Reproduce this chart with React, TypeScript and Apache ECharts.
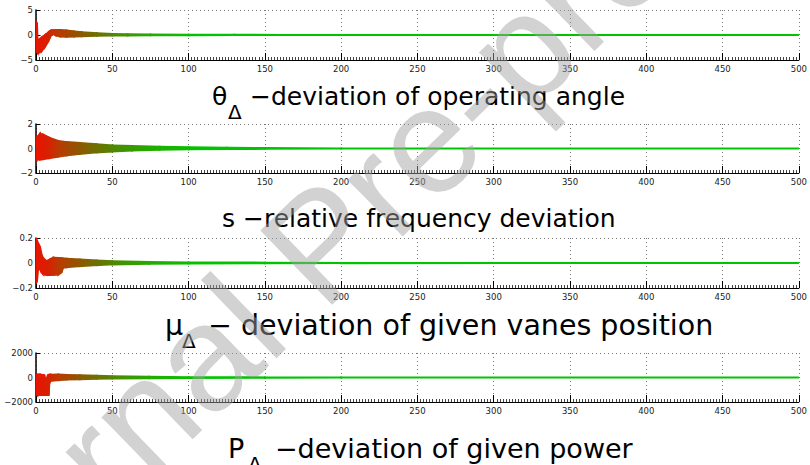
import React, { useEffect, useRef } from 'react';
import * as echarts from 'echarts';

// ---------- data ----------
const xMin = 0;
const xMax = 500;
const xInterval = 50;

// theta_delta : deviation of operating angle
const thetaTime = [0, 0.6, 1, 1.5, 3.7, 6, 8, 9, 10, 11, 13, 16, 20, 25, 30, 40, 50, 60, 75, 100, 130, 160, 200, 500];
const thetaUpper = [2.6, 2.4, -1.1, -1.0, -0.5, 0.0, 0.5, 0.75, 0.9, 0.95, 1.0, 1.0, 0.9, 0.7, 0.55, 0.35, 0.2, 0.15, 0.1, 0.06, 0.04, 0.02, 0.01, 0];
const thetaLower = [-2.5, -3.3, -3.5, -3.6, -3.2, -2.3, -1.3, -0.6, 0.0, 0.2, -0.1, -0.3, -0.35, -0.3, -0.25, -0.15, -0.1, -0.08, -0.05, -0.03, -0.02, -0.01, 0, 0];

// s : relative frequency deviation
const sTime = [0, 0.4, 2.6, 4.8, 9, 14.6, 20, 28.7, 39.6, 50, 63, 81, 100, 125, 150, 200, 500];
const sUpper = [0.8, 0.9, 1.2, 1.13, 0.87, 0.62, 0.53, 0.45, 0.35, 0.25, 0.2, 0.15, 0.11, 0.07, 0.04, 0.01, 0];
const sLower = [-0.85, -0.9, -0.9, -0.86, -0.78, -0.66, -0.56, -0.44, -0.32, -0.24, -0.16, -0.1, -0.07, -0.05, -0.03, -0.01, 0];

// mu_delta : deviation of given vanes position
const muTime = [0, 0.6, 1.5, 2.6, 3.7, 4.8, 7, 9.1, 11.3, 14.6, 16.7, 17.8, 20, 28.7, 39.6, 50, 74, 100, 150, 200, 500];
const muUpper = [0.2, 0.18, 0.155, 0.13, 0.065, 0.037, 0.014, 0.028, 0.042, 0.04, 0.038, 0.036, 0.034, 0.028, 0.02, 0.014, 0.008, 0.005, 0.003, 0.001, 0];
const muLower = [-0.16, -0.15, -0.034, -0.048, -0.076, -0.09, -0.096, -0.096, -0.095, -0.093, -0.076, -0.037, -0.034, -0.025, -0.017, -0.011, -0.006, -0.004, -0.002, -0.001, 0];

// P_delta : deviation of given power
const pTime = [0, 0.9, 2.6, 4.8, 5.4, 6.5, 7.8, 8.3, 8.7, 9.6, 14.6, 20, 28.7, 39.6, 50, 74, 100, 150, 200, 500];
const pUpper = [250, 240, 240, 200, 190, -300, 190, 210, 220, 230, 240, 210, 190, 140, 110, 60, 30, 10, 0, 0];
const pLower = [-1300, -1430, -1430, -1430, -1430, -1430, -1430, -1430, -500, -270, -210, -160, -135, -110, -80, -55, -40, -20, -5, 0];

const yRanges = [
  { min: -5, max: 5, interval: 5 },
  { min: -2, max: 2, interval: 2 },
  { min: -0.2, max: 0.2, interval: 0.2 },
  { min: -2000, max: 2000, interval: 2000 },
];

const panelsData = [
  { t: thetaTime, up: thetaUpper, lo: thetaLower },
  { t: sTime, up: sUpper, lo: sLower },
  { t: muTime, up: muUpper, lo: muLower },
  { t: pTime, up: pUpper, lo: pLower },
];

// ---------- layout / style ----------
const gridTops = [10, 124, 238, 353];
const gridHeights = [50, 49, 50, 49];
const gridLeft = 36;
const gridWidth = 768;

const colorStops = [
  { offset: 0, color: '#e81400' },
  { offset: 0.07, color: '#d82000' },
  { offset: 0.14, color: '#b83c00' },
  { offset: 0.23, color: '#985000' },
  { offset: 0.36, color: '#6e7000' },
  { offset: 0.5, color: '#459000' },
  { offset: 0.7, color: '#1fae00' },
  { offset: 1, color: '#00c400' },
];
const gradientEnd = 110;

const titleParts = [
  { text: 'θ', x: 212, base: 105, size: 25 },
  { text: 'Δ', x: 228, base: 119, size: 20 },
  { text: '−deviation of operating angle', x: 250, base: 105, size: 25 },
  { text: 's −relative frequency deviation', x: 222, base: 227, size: 25 },
  { text: 'μ', x: 165, base: 335, size: 28.5 },
  { text: 'Δ', x: 182, base: 348, size: 20 },
  { text: '− deviation of given vanes position', x: 208, base: 335, size: 28.5 },
  { text: 'P', x: 228, base: 458, size: 27 },
  { text: 'Δ', x: 248, base: 471, size: 20 },
  { text: '−deviation of given power', x: 275, base: 458, size: 27 },
];

const fmtMinus = (v: number) => String(v).replace('-', '\u2212');

function buildOption() {
  const grid = gridTops.map((top, i) => ({
    left: gridLeft,
    top,
    width: gridWidth,
    height: gridHeights[i],
    containLabel: false,
  }));

  const xAxis = gridTops.map((_, i) => ({
    gridIndex: i,
    type: 'value',
    min: xMin,
    max: xMax,
    interval: xInterval,
    axisLine: { show: true, onZero: false, lineStyle: { color: '#000', width: 1 } },
    axisTick: { show: true, inside: true, length: 7, lineStyle: { color: '#000', width: 1 } },
    minorTick: { show: true, splitNumber: 25, length: 3, lineStyle: { color: '#444', width: 1 } },
    axisLabel: { fontSize: 8.5, color: '#222', margin: 4, fontFamily: 'DejaVu Sans' },
    splitLine: { show: true, lineStyle: { color: '#777', type: [1, 3], width: 1 } },
  }));

  const yAxis = yRanges.map((r, i) => ({
    gridIndex: i,
    type: 'value',
    min: r.min,
    max: r.max,
    interval: r.interval,
    axisLine: { show: true, onZero: false, lineStyle: { color: '#000', width: 1.5 } },
    axisTick: { show: true, inside: true, length: 4, lineStyle: { color: '#000' } },
    axisLabel: {
      fontSize: 8.5,
      color: '#222',
      margin: 3,
      fontFamily: 'DejaVu Sans',
      formatter: fmtMinus,
    },
    splitLine: { show: true, lineStyle: { color: '#777', type: [1, 3], width: 1 } },
  }));

  const series = panelsData.map((p, i) => {
    const segs: number[][] = [];
    for (let j = 0; j < p.t.length - 1; j++) {
      segs.push([p.t[j], p.lo[j], p.up[j], p.t[j + 1], p.lo[j + 1], p.up[j + 1]]);
    }
    return {
      type: 'custom',
      xAxisIndex: i,
      yAxisIndex: i,
      clip: true,
      silent: true,
      encode: { x: [0, 3], y: [1, 2, 4, 5] },
      data: segs,
      renderItem: (params: any, api: any) => {
        const x0 = api.value(0), l0 = api.value(1), h0 = api.value(2);
        const x1 = api.value(3), l1 = api.value(4), h1 = api.value(5);
        const pts = [api.coord([x0, h0]), api.coord([x1, h1]), api.coord([x1, l1]), api.coord([x0, l0])];
        const gx0 = api.coord([0, 0])[0];
        const gx1 = api.coord([gradientEnd, 0])[0];
        const grad = new echarts.graphic.LinearGradient(gx0, 0, gx1, 0, colorStops, true);
        return {
          type: 'polygon',
          shape: { points: pts },
          style: { fill: grad, stroke: grad, lineWidth: 2 },
        };
      },
    };
  });

  const graphic: any[] = titleParts.map((tp) => ({
    type: 'text',
    x: tp.x,
    y: tp.base - 0.346 * tp.size,
    z: 50,
    silent: true,
    style: {
      text: tp.text,
      fontSize: tp.size,
      fontFamily: 'DejaVu Sans',
      fill: '#000',
      textAlign: 'left',
      textVerticalAlign: 'middle',
      verticalAlign: 'middle',
    },
  }));

  graphic.push({
    type: 'text',
    x: 320,
    y: 244,
    rotation: (44 * Math.PI) / 180,
    z: 100,
    silent: true,
    style: {
      text: 'Journal Pre-proof',
      fontSize: 150,
      fontFamily: 'Liberation Sans',
      fill: 'rgba(160,160,160,0.48)',
      textAlign: 'center',
      textVerticalAlign: 'middle',
      verticalAlign: 'middle',
    },
  });

  return {
    animation: false,
    backgroundColor: '#fff',
    grid,
    xAxis,
    yAxis,
    series,
    graphic,
  };
}

export default function App() {
  const ref = useRef<HTMLDivElement>(null);
  useEffect(() => {
    if (!ref.current) return;
    const chart = echarts.init(ref.current, null, { renderer: 'svg' });
    chart.setOption(buildOption() as any);
    return () => chart.dispose();
  }, []);
  return (
    <div
      ref={ref}
      style={{ position: 'fixed', left: 0, top: 0, width: 810, height: 465, background: '#fff' }}
    />
  );
}
